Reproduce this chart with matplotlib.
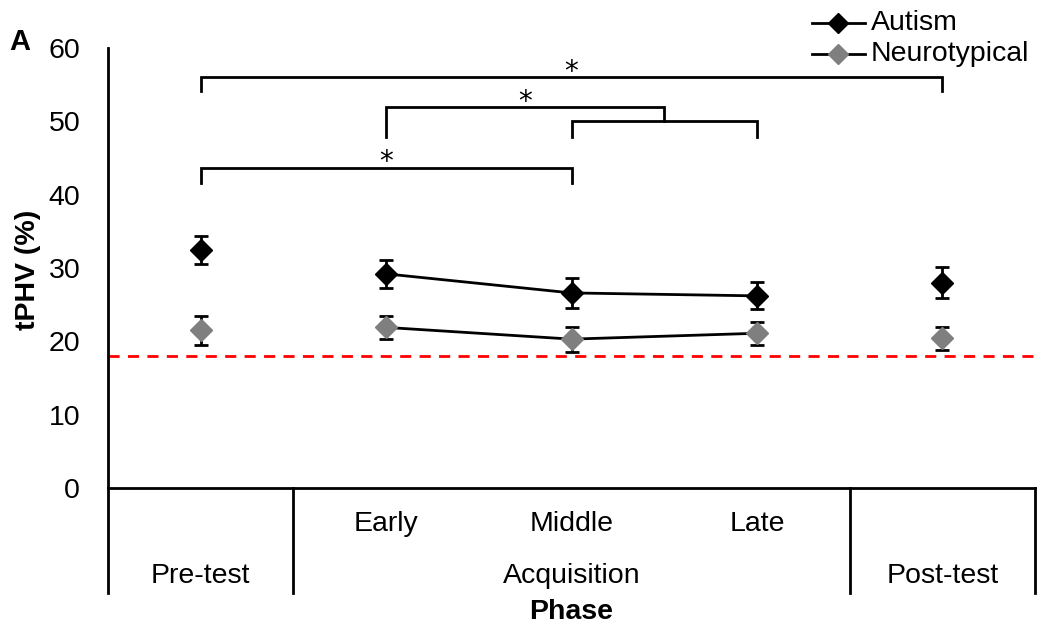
import matplotlib
matplotlib.use("Agg")
import matplotlib.pyplot as plt
import matplotlib.transforms as mtransforms
from matplotlib.lines import Line2D
import numpy as np

plt.rcParams['font.family'] = ['Liberation Sans', 'DejaVu Sans']

phases = ["Pre-test", "Early", "Middle", "Late", "Post-test"]
autism = [32.4, 29.2, 26.6, 26.2, 28.0]
autism_err = [1.9, 1.9, 2.0, 1.85, 2.15]
neuro = [21.5, 21.9, 20.3, 21.1, 20.4]
neuro_err = [2.0, 1.6, 1.7, 1.6, 1.55]
threshold = 18.0
y_ticks = [0, 10, 20, 30, 40, 50, 60]
sub_labels = ["Early", "Middle", "Late"]
group_labels = ["Pre-test", "Acquisition", "Post-test"]
series_names = ["Autism", "Neurotypical"]

x = np.arange(len(phases))
acq = slice(1, 4)
FS = 20.5
W, H = 1039, 630

fig = plt.figure(figsize=(10.39, 6.3), dpi=100)
ax = fig.add_axes([108/W, 1-488/H, (1035-108)/W, 440/H])
ax.set_xlim(-0.5, 4.5)
ax.set_ylim(0, 60)

gray = "#7f7f7f"
ax.plot(x[acq], autism[acq], color="black", lw=2, zorder=2)
ax.plot(x[acq], neuro[acq], color="black", lw=2, zorder=2)
ax.errorbar(x, autism, yerr=autism_err, fmt='D', color="black", ms=11,
            ecolor="black", elinewidth=2, capsize=5, capthick=2, zorder=3)
ax.errorbar(x, neuro, yerr=neuro_err, fmt='D', color=gray, ms=11,
            ecolor="black", elinewidth=2, capsize=5, capthick=2, zorder=3)
ax.axhline(threshold, color="#ff0000", lw=2, ls=(0, (4, 3)), zorder=1)

# legend drawn in figure coordinates
for name, col, ypx in zip(series_names, ["black", gray], [23, 54]):
    yf = 1 - ypx/H
    fig.add_artist(Line2D([812/W, 865/W], [yf, yf], color="black", lw=2,
                          transform=fig.transFigure))
    fig.add_artist(Line2D([838/W], [yf], marker='D', ms=10, color=col,
                          mec=col, lw=0, transform=fig.transFigure))
    fig.text(871/W, yf, name, ha="left", va="center", fontsize=FS)

for s in ["top", "right"]:
    ax.spines[s].set_visible(False)
ax.spines["left"].set_linewidth(2)
ax.spines["bottom"].set_linewidth(2)
ax.set_yticks(y_ticks)
ax.tick_params(axis='y', length=0, pad=20, labelsize=FS)
ax.set_xticks([])

def bracket(x1, x2, y, ybot1, ybot2, star=True, star_x=None):
    ax.plot([x1, x1, x2, x2], [ybot1, y, y, ybot2], color="black", lw=2,
            clip_on=False, solid_joinstyle='miter')
    if star:
        sx = (x1 + x2) / 2 if star_x is None else star_x
        ax.text(sx, y + 1.1, "*", ha="center", va="center_baseline", fontsize=20,
                family="DejaVu Sans")

bracket(0, 4, 56.1, 54.2, 54.2)
bracket(0, 2, 43.7, 41.6, 41.6)
bracket(2, 3, 50.0, 47.9, 47.9, star=False)
bracket(1, 2.5, 51.9, 47.9, 50.0, star_x=1.75)

trans = mtransforms.blended_transform_factory(ax.transData, fig.transFigure)
ybot = 1 - 593/H
for xs in [-0.5, 0.5, 3.5, 4.5]:
    ax.plot([xs, xs], [1-488/H, ybot], color="black", lw=2,
            transform=trans, clip_on=False)
for xi, lab in zip([1, 2, 3], sub_labels):
    ax.text(xi, 1-524/H, lab, transform=trans, ha="center", va="center", fontsize=FS)
for xi, lab in zip([0, 2, 4], group_labels):
    ax.text(xi, 1-576/H, lab, transform=trans, ha="center", va="center", fontsize=FS)
fig.text((108+1035)/2/W, 1-612/H, "Phase", ha="center", va="center",
         fontsize=FS, fontweight="bold")
fig.text(28/W, 1-270/H, "tPHV (%)", rotation=90, ha="center", va="center",
         fontsize=FS, fontweight="bold")
fig.text(20/W, 1-42/H, "A", ha="center", va="center", fontsize=21, fontweight="bold")

fig.savefig("out.png", dpi=100)
